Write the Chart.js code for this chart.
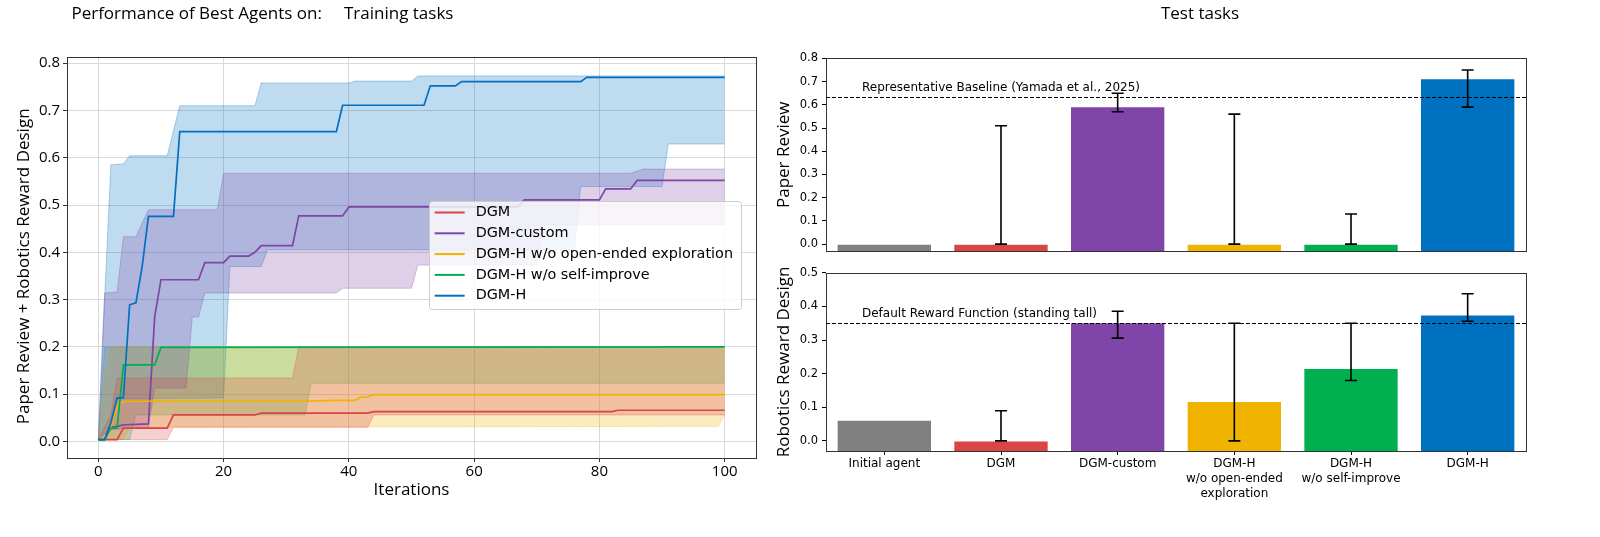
<!DOCTYPE html>
<html>
<head>
<meta charset="utf-8">
<script src="https://cdn.jsdelivr.net/npm/chart.js@4.4.1/dist/chart.umd.min.js"></script>
<style>
  html, body { margin: 0; background: #fff; }
  #wrap { position: relative; width: 1600px; height: 537px; }
  canvas { position: absolute; }
</style>
</head>
<body>
<div id="wrap">
  <canvas id="train" width="780" height="537" style="left:0;top:0"></canvas>
  <canvas id="paper" width="860" height="262" style="left:740px;top:0"></canvas>
  <canvas id="robot" width="860" height="275" style="left:740px;top:262px"></canvas>
</div>
<script>
// ---- training curves: [iteration, score] change points ----
const iterTicks = [0, 20, 40, 60, 80, 100];
const scoreTicks = [0, 0.1, 0.2, 0.3, 0.4, 0.5, 0.6, 0.7, 0.8];

const methods = ['DGM', 'DGM-custom', 'DGM-H w/o open-ended exploration', 'DGM-H w/o self-improve', 'DGM-H'];
const methodColors = ['#d94444', '#7f45a8', '#efb300', '#00b050', '#0070c0'];

const dgmMean = [[0,.004],[3,.004],[4,.028],[11,.028],[12,.056],[25,.056],[26,.06],[43,.06],[44,.063],[82,.063],[83,.066],[100,.066]];
const dgmUpper = [[0,.004],[2,.056],[3,.134],[31,.134],[32,.2],[100,.2]];
const dgmLower = [[0,.004],[11,.004],[12,.03],[43,.03],[44,.056],[100,.056]];

const customMean = [[0,.004],[1,.004],[2,.03],[3,.032],[4,.035],[8,.037],[9,.264],[10,.342],[16,.342],[17,.378],[20,.378],[21,.392],[24,.392],[25,.4],[26,.414],[31,.414],[32,.477],[39,.477],[40,.496],[67,.496],[68,.511],[80,.511],[81,.534],[85,.534],[86,.552],[100,.552]];
const customUpper = [[0,.004],[1,.314],[3,.316],[4,.433],[6,.433],[8,.49],[19,.49],[20,.567],[85,.567],[87,.576],[100,.576]];
const customLower = [[0,.004],[2,.025],[8,.03],[9,.113],[14,.113],[15,.263],[16,.263],[17,.314],[38,.314],[39,.324],[50,.324],[51,.373],[70,.373],[71,.458],[100,.458]];

const noExploreMean = [[0,.004],[1,.004],[2,.03],[3,.075],[4,.085],[33,.085],[38,.087],[41,.087],[42,.094],[43,.094],[44,.099],[100,.099]];
const noExploreUpper = [[0,.004],[1,.134],[2,.2],[100,.2]];
const noExploreLower = [[0,.004],[4,.004],[5,.03],[98,.032],[99,.032],[100,.056]];

const noSelfMean = [[0,.004],[1,.004],[2,.028],[3,.028],[4,.162],[9,.162],[10,.199],[100,.2]];
const noSelfUpper = [[0,.004],[1,.199],[100,.2]];
const noSelfLower = [[0,.004],[5,.004],[6,.056],[33,.056],[34,.123],[100,.123]];

const dgmhMean = [[0,.004],[1,.004],[2,.039],[3,.092],[4,.092],[5,.289],[6,.293],[7,.37],[8,.476],[12,.476],[13,.655],[38,.655],[39,.711],[52,.711],[53,.752],[57,.752],[58,.761],[77,.761],[78,.77],[100,.77]];
const dgmhUpper = [[0,.004],[1,.3],[2,.585],[4,.587],[5,.604],[11,.604],[13,.71],[25,.71],[26,.758],[40,.758],[41,.762],[50,.762],[51,.773],[100,.773]];
const dgmhLower = [[0,.004],[2,.03],[3,.09],[20,.092],[21,.37],[26,.37],[27,.405],[76,.405],[77,.539],[90,.539],[91,.629],[100,.629]];

const means = [dgmMean, customMean, noExploreMean, noSelfMean, dgmhMean];
const uppers = [dgmUpper, customUpper, noExploreUpper, noSelfUpper, dgmhUpper];
const lowers = [dgmLower, customLower, noExploreLower, noSelfLower, dgmhLower];

// ---- test tasks ----
const agents = ['Initial agent', 'DGM', 'DGM-custom', ['DGM-H', 'w/o open-ended', 'exploration'], ['DGM-H', 'w/o self-improve'], 'DGM-H'];
const agentColors = ['#808080', '#d94444', '#7f45a8', '#efb300', '#00b050', '#0070c0'];

const paperTicks = [0, 0.1, 0.2, 0.3, 0.4, 0.5, 0.6, 0.7, 0.8];
const paperScore = [0.0, 0.0, 0.59, 0.0, 0.0, 0.71];
const paperLow = [null, 0.0, 0.57, 0.0, 0.0, 0.59];
const paperHigh = [null, 0.51, 0.65, 0.56, 0.13, 0.75];
const paperBaseline = 0.633;

const robotTicks = [0, 0.1, 0.2, 0.3, 0.4, 0.5];
const robotScore = [0.06, 0.0, 0.35, 0.116, 0.214, 0.373];
const robotLow = [null, 0.0, 0.306, 0.0, 0.18, 0.356];
const robotHigh = [null, 0.09, 0.386, 0.35, 0.35, 0.438];
const robotBaseline = 0.35;

// ---------------------------------------------------------------
Chart.defaults.font.family = '"DejaVu Sans", sans-serif';
Chart.defaults.color = '#000';
Chart.defaults.animation = false;
Chart.defaults.plugins.legend.display = false;
Chart.defaults.plugins.tooltip.enabled = false;

const labelFont = { family: '"Open Sans", sans-serif', size: 17 };

function rgba(hex, a) {
  const n = parseInt(hex.slice(1), 16);
  return `rgba(${n >> 16},${(n >> 8) & 255},${n & 255},${a})`;
}
const pts = arr => arr.map(([x, y]) => ({ x, y }));
const fixTicks = values => s => { s.ticks = values.map(value => ({ value })); };

// matplotlib-like box around the axes
const frame = {
  id: 'frame',
  afterDatasetsDraw(chart) {
    const { ctx, chartArea: a } = chart;
    ctx.save();
    ctx.strokeStyle = '#333';
    ctx.lineWidth = 1;
    const l = Math.round(a.left) + 0.5, t = Math.round(a.top) + 0.5;
    ctx.strokeRect(l, t, Math.round(a.right) - Math.round(a.left), Math.round(a.bottom) - Math.round(a.top));
    ctx.restore();
  }
};

// panel heading drawn above the plot area
const caption = {
  id: 'caption',
  afterDraw(chart, args, o) {
    if (!o.text) return;
    const { ctx, chartArea: a } = chart;
    ctx.save();
    ctx.font = '17px "Open Sans"';
    ctx.fillStyle = '#000';
    ctx.textAlign = 'center';
    ctx.textBaseline = 'middle';
    ctx.fillText(o.text, (a.left + a.right) / 2 + o.shift, o.y);
    ctx.restore();
  }
};

// legend box drawn inside the plot, centre right
const insideLegend = {
  id: 'insideLegend',
  afterDraw(chart) {
    const { ctx, chartArea: a } = chart;
    ctx.save();
    ctx.font = '14.4px "DejaVu Sans"';
    const textW = Math.max(...methods.map(m => ctx.measureText(m).width));
    const rowH = 20.8, h = 108;
    const w = 47 + textW + 8;
    const right = a.right - 15, left = right - w;
    const top = (a.top + a.bottom) / 2 - h / 2 - 3;
    ctx.beginPath();
    ctx.roundRect(Math.round(left) + 0.5, Math.round(top) + 0.5, Math.round(w), h, 3);
    ctx.fillStyle = 'rgba(255,255,255,0.8)';
    ctx.fill();
    ctx.strokeStyle = '#cccccc';
    ctx.lineWidth = 1;
    ctx.stroke();
    ctx.textBaseline = 'middle';
    methods.forEach((m, i) => {
      const cy = top + 12 + i * rowH;
      ctx.strokeStyle = methodColors[i];
      ctx.lineWidth = 2;
      ctx.beginPath();
      ctx.moveTo(left + 6, cy);
      ctx.lineTo(left + 36, cy);
      ctx.stroke();
      ctx.fillStyle = '#000';
      ctx.fillText(m, left + 47, cy);
    });
    ctx.restore();
  }
};

// dashed baseline, its caption and the error bars
const barExtras = {
  id: 'barExtras',
  afterDatasetsDraw(chart, args, o) {
    const { ctx, chartArea: a, scales: { y } } = chart;
    const bars = chart.getDatasetMeta(0).data;
    ctx.save();
    const ly = Math.round(y.getPixelForValue(o.refValue)) + 0.5;
    ctx.strokeStyle = '#000';
    ctx.lineWidth = 1;
    ctx.setLineDash([4, 2]);
    ctx.beginPath();
    ctx.moveTo(a.left, ly);
    ctx.lineTo(a.right, ly);
    ctx.stroke();
    ctx.setLineDash([]);
    ctx.font = '12px "DejaVu Sans"';
    ctx.fillStyle = '#000';
    ctx.textBaseline = 'middle';
    ctx.fillText(o.refText, a.left + 36, ly - 9.5);
    ctx.lineWidth = 1.6;
    o.low.forEach((lo, i) => {
      if (lo === null) return;
      const cx = bars[i].x;
      const y0 = y.getPixelForValue(lo), y1 = y.getPixelForValue(o.high[i]);
      ctx.beginPath();
      ctx.moveTo(cx, y0); ctx.lineTo(cx, y1);
      ctx.moveTo(cx - 6, y0); ctx.lineTo(cx + 6, y0);
      ctx.moveTo(cx - 6, y1); ctx.lineTo(cx + 6, y1);
      ctx.stroke();
    });
    ctx.restore();
  }
};

// ---- left: training curves ----
const trainSets = [];
methods.forEach((name, i) => {
  const c = methodColors[i];
  trainSets.push({
    label: name + ' max', data: pts(uppers[i]), fill: '+1',
    backgroundColor: rgba(c, 0.25), borderColor: rgba(c, 0.3), borderWidth: 1,
    pointRadius: 0, order: 10
  });
  trainSets.push({
    label: name + ' min', data: pts(lowers[i]), fill: false,
    borderColor: rgba(c, 0.3), borderWidth: 1, pointRadius: 0, order: 10
  });
  trainSets.push({
    label: name, data: pts(means[i]), fill: false,
    borderColor: c, borderWidth: 1.7, pointRadius: 0, order: methods.length - 1 - i
  });
});

new Chart(document.getElementById('train'), {
  type: 'line',
  data: { datasets: trainSets },
  options: {
    responsive: false,
    layout: { padding: { right: 24 } },
    plugins: {
      title: {
        display: true, fullSize: false, align: 'start',
        text: ' Performance of Best Agents on:     Training tasks',
        font: { family: '"Open Sans", sans-serif', size: 17, weight: 'normal' },
        color: '#000', padding: { top: 4, bottom: 32.6 }
      }
    },
    scales: {
      x: {
        type: 'linear', min: -5, max: 105,
        afterBuildTicks: fixTicks(iterTicks),
        afterFit: s => { s.height = 79; },
        ticks: { font: { family: '"Open Sans", sans-serif', size: 15 }, padding: 1 },
        grid: { color: '#d9d9d9', tickColor: '#333', tickLength: 4 },
        border: { display: false },
        title: { display: true, text: 'Iterations', font: labelFont, color: '#000', padding: { bottom: 37 } }
      },
      y: {
        type: 'linear', min: -0.035, max: 0.813,
        afterBuildTicks: fixTicks(scoreTicks),
        afterFit: s => { s.width = 67; },
        ticks: { font: { family: '"Open Sans", sans-serif', size: 15 }, padding: 3, callback: v => v.toFixed(1) },
        grid: { color: '#d9d9d9', tickColor: '#333', tickLength: 4 },
        border: { display: false },
        title: { display: true, text: 'Paper Review + Robotics Reward Design    ', font: labelFont, color: '#000', padding: { top: 14 } }
      }
    }
  },
  plugins: [frame, insideLegend]
});

// ---- right: test tasks ----
function barChart(id, opts) {
  return new Chart(document.getElementById(id), {
    type: 'bar',
    data: {
      labels: agents,
      datasets: [{
        data: opts.score.map(v => [opts.min, v]),
        backgroundColor: agentColors,
        borderWidth: 0,
        barPercentage: 0.8,
        categoryPercentage: 1.0
      }]
    },
    options: {
      responsive: false,
      layout: { padding: { top: opts.padTop, right: 74 } },
      plugins: {
        caption: { text: opts.title, shift: 24, y: 14 },
        barExtras: { refValue: opts.ref, refText: opts.refText, low: opts.low, high: opts.high }
      },
      scales: {
        x: {
          afterFit: s => { s.height = opts.xHeight; },
          ticks: opts.showLabels
            ? { display: true, autoSkip: false, maxRotation: 0, padding: 1, font: { size: 12, lineHeight: 1.25 } }
            : { display: false },
          grid: opts.showLabels
            ? { display: true, drawOnChartArea: false, offset: false, tickLength: 4, tickColor: '#000' }
            : { display: false },
          border: { display: false }
        },
        y: {
          min: opts.min, max: opts.max,
          afterBuildTicks: fixTicks(opts.ticks),
          afterFit: s => { s.width = 86; },
          ticks: { font: { size: 11.5 }, padding: 4, callback: v => v.toFixed(1) },
          grid: { drawOnChartArea: false, tickLength: 4, tickColor: '#000' },
          border: { display: false },
          title: { display: true, text: opts.yTitle, font: labelFont, color: '#000', padding: { top: 34 } }
        }
      }
    },
    plugins: [frame, barExtras, caption]
  });
}

barChart('paper', {
  title: 'Test tasks', yTitle: 'Paper Review',
  score: paperScore, low: paperLow, high: paperHigh, ticks: paperTicks,
  min: -0.03, max: 0.8, ref: paperBaseline,
  refText: 'Representative Baseline (Yamada et al., 2025)',
  padTop: 58.4, xHeight: 8.3, showLabels: false
});

barChart('robot', {
  title: null, yTitle: 'Robotics Reward Design',
  score: robotScore, low: robotLow, high: robotHigh, ticks: robotTicks,
  min: -0.03, max: 0.5, ref: robotBaseline,
  refText: 'Default Reward Function (standing tall)',
  padTop: 6.3, xHeight: 86, showLabels: true
});
</script>
</body>
</html>
